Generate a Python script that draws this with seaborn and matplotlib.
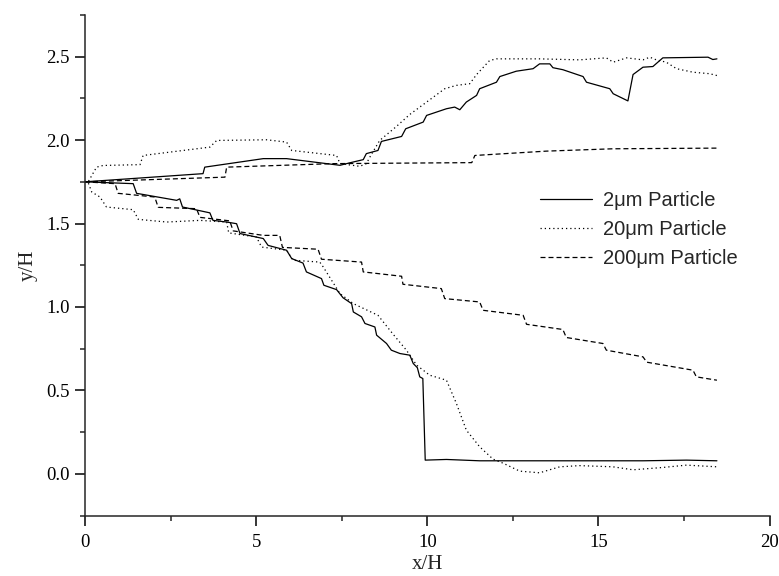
import matplotlib
matplotlib.use('Agg')
import matplotlib.pyplot as plt
import seaborn as sns
from matplotlib.ticker import MultipleLocator

# particle trajectories (x/H, y/H), upper and lower branches
x_2um_up = [0, 3.45, 3.50, 5.21, 5.89, 7.45, 7.74, 8.13, 8.22, 8.56, 8.66, 9.25, 9.37, 9.88, 9.98,
            10.56, 10.80, 10.95, 11.14, 11.44, 11.53, 12.02, 12.12, 12.60, 13.09, 13.28, 13.58,
            13.67, 13.96, 14.55, 14.65, 15.33, 15.43, 15.86, 16.01, 16.30, 16.59, 16.88, 18.20,
            18.34, 18.46]
y_2um_up = [1.75, 1.799, 1.838, 1.889, 1.889, 1.849, 1.864, 1.883, 1.919, 1.938, 1.992, 2.022,
            2.068, 2.108, 2.148, 2.188, 2.198, 2.182, 2.228, 2.268, 2.308, 2.347, 2.381, 2.413,
            2.428, 2.457, 2.457, 2.434, 2.422, 2.381, 2.347, 2.308, 2.278, 2.235, 2.393, 2.437,
            2.441, 2.493, 2.497, 2.483, 2.487]

x_2um_low = [0, 1.41, 1.51, 2.68, 2.77, 2.85, 3.31, 3.65, 3.74, 4.14, 4.43, 4.53, 5.21, 5.35,
             5.89, 6.04, 6.37, 6.47, 6.91, 6.98, 7.35, 7.54, 7.79, 7.84, 8.08, 8.18, 8.47, 8.52,
             8.81, 8.95, 9.20, 9.49, 9.59, 9.71, 9.78, 9.87, 9.94, 10.56, 11.53, 16.30, 17.57,
             18.46]
y_2um_low = [1.75, 1.739, 1.681, 1.639, 1.648, 1.599, 1.579, 1.564, 1.519, 1.509, 1.499, 1.440,
             1.410, 1.369, 1.340, 1.290, 1.263, 1.210, 1.170, 1.130, 1.104, 1.055, 1.020, 0.970,
             0.941, 0.901, 0.880, 0.831, 0.781, 0.741, 0.721, 0.711, 0.661, 0.636, 0.581, 0.571,
             0.082, 0.086, 0.078, 0.078, 0.082, 0.078]

x_20um_up = [0, 0.09, 0.34, 0.53, 1.61, 1.70, 3.65, 3.85, 5.31, 5.89, 6.04, 7.35, 7.45, 8.03,
             8.22, 8.35, 8.61, 9.10, 9.49, 9.98, 10.51, 10.85, 11.24, 11.44, 11.82, 12.02, 13.28,
             14.45, 15.23, 15.43, 15.82, 16.30, 16.50, 16.69, 16.98, 17.28, 17.76, 18.25, 18.46]
y_20um_up = [1.75, 1.748, 1.838, 1.848, 1.853, 1.908, 1.958, 1.998, 2.002, 1.988, 1.938, 1.908,
             1.859, 1.843, 1.859, 1.908, 1.998, 2.082, 2.154, 2.228, 2.308, 2.328, 2.338, 2.393,
             2.477, 2.487, 2.487, 2.481, 2.493, 2.467, 2.493, 2.481, 2.497, 2.481, 2.467, 2.428,
             2.407, 2.398, 2.387]

x_20um_low = [0, 0.09, 0.20, 0.44, 0.63, 1.41, 1.56, 2.39, 3.36, 4.14, 4.20, 5.01, 5.16, 5.89,
              6.08, 6.86, 6.96, 7.45, 7.84, 8.56, 9.00, 9.39, 9.69, 10.07, 10.56, 10.85, 11.14,
              11.53, 11.92, 12.21, 12.70, 13.28, 13.87, 14.45, 15.42, 16.01, 16.88, 17.57, 18.46]
y_20um_low = [1.75, 1.748, 1.689, 1.659, 1.599, 1.583, 1.525, 1.509, 1.519, 1.509, 1.444, 1.419,
              1.359, 1.340, 1.280, 1.269, 1.240, 1.080, 1.020, 0.950, 0.837, 0.741, 0.651, 0.591,
              0.561, 0.422, 0.262, 0.162, 0.088, 0.064, 0.016, 0.006, 0.042, 0.049, 0.042, 0.024,
              0.038, 0.052, 0.042]

x_200um_up = [0, 1.31, 4.09, 4.14, 7.25, 9.20, 11.30, 11.39, 13.48, 15.42, 18.46]
y_200um_up = [1.75, 1.759, 1.778, 1.838, 1.859, 1.862, 1.865, 1.908, 1.934, 1.948, 1.952]

x_200um_low = [0, 0.88, 0.97, 2.04, 2.14, 3.26, 3.36, 4.23, 4.33, 5.21, 5.69, 5.77, 6.81, 6.91,
               8.08, 8.13, 9.25, 9.29, 10.41, 10.51, 11.53, 11.63, 12.80, 12.90, 13.96, 14.06,
               15.13, 15.23, 16.30, 16.41, 17.76, 17.86, 18.46]
y_200um_low = [1.75, 1.739, 1.681, 1.659, 1.597, 1.589, 1.537, 1.516, 1.456, 1.429, 1.429, 1.357,
               1.346, 1.286, 1.269, 1.210, 1.184, 1.136, 1.110, 1.050, 1.030, 0.980, 0.950, 0.896,
               0.865, 0.817, 0.781, 0.741, 0.701, 0.669, 0.621, 0.581, 0.561]

labels = ['2\u03bcm Particle', '20\u03bcm Particle', '200\u03bcm Particle']

sns.set_style('ticks')
plt.rcParams['font.family'] = ['Liberation Serif', 'DejaVu Serif']
plt.rcParams['axes.linewidth'] = 1.1

fig = plt.figure(figsize=(7.79, 5.76), dpi=100)
ax = fig.add_axes([0.109, 0.105, 0.879, 0.869])

styles = ['-', (0, (1, 2.4)), (0, (4, 2.4))]
curves = [(x_2um_up, y_2um_up, x_2um_low, y_2um_low),
          (x_20um_up, y_20um_up, x_20um_low, y_20um_low),
          (x_200um_up, y_200um_up, x_200um_low, y_200um_low)]

for (xu, yu, xl, yl), ls, lab in zip(curves, styles, labels):
    sns.lineplot(x=xu, y=yu, ax=ax, color='black', lw=0.9, linestyle=ls,
                 sort=False, estimator=None, label=lab)
    sns.lineplot(x=xl, y=yl, ax=ax, color='black', lw=0.9, linestyle=ls,
                 sort=False, estimator=None, label='_nolegend_')

ax.set_xlim(0, 20)
ax.set_ylim(-0.25, 2.75)
ax.set_xticks([0, 5, 10, 15, 20])
ax.xaxis.set_minor_locator(MultipleLocator(2.5))
ax.yaxis.set_major_locator(MultipleLocator(0.5))
ax.yaxis.set_minor_locator(MultipleLocator(0.25))
ax.tick_params(which='major', length=7, width=1.1, labelsize=13.5, colors='black')
ax.tick_params(which='minor', length=3.5, width=1.1)
ax.tick_params(axis='x', which='major', pad=6)
ax.tick_params(axis='y', which='major', pad=4)
sns.despine(ax=ax)

ax.set_xlabel('x/H', fontsize=15, labelpad=3)
ax.set_ylabel('y/H', fontsize=15, labelpad=6)

leg = ax.legend(loc='upper left', bbox_to_anchor=(540 / 779, 1 - 191 / 576),
                bbox_transform=fig.transFigure, frameon=False, borderpad=0,
                borderaxespad=0, handlelength=2.6, handletextpad=0.55, labelspacing=0.5,
                prop={'family': 'Liberation Sans', 'size': 14.5})

fig.savefig('out.png', dpi=100)
